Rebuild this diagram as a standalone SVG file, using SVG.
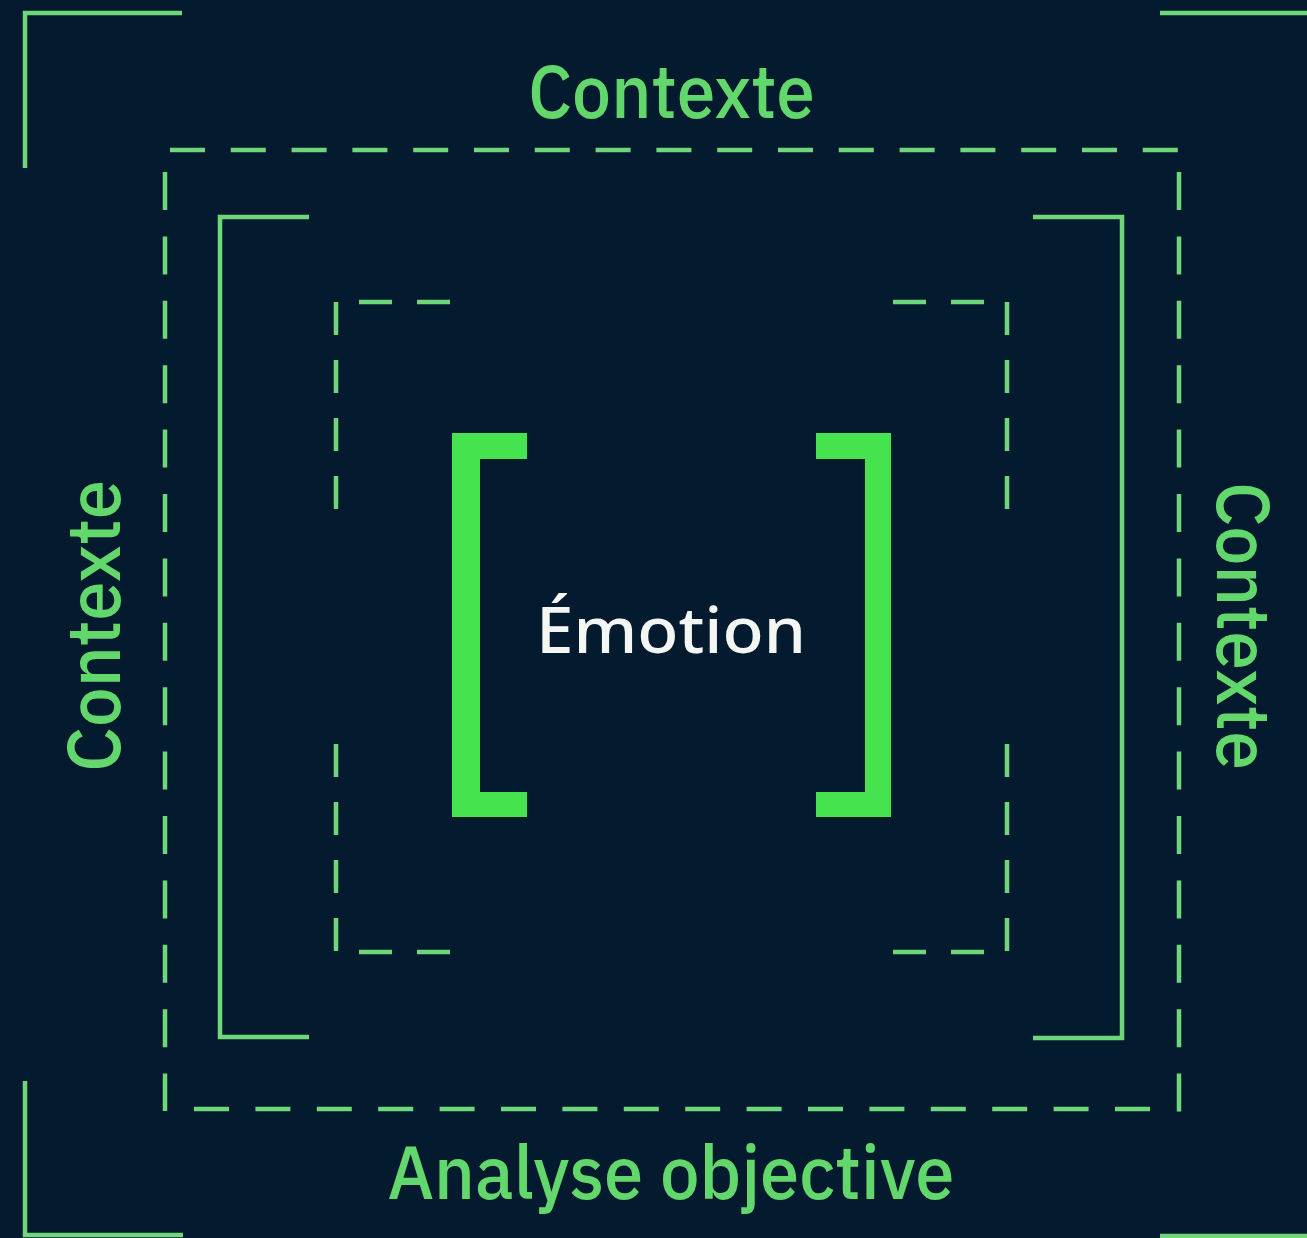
<svg xmlns="http://www.w3.org/2000/svg" width="1307" height="1238" viewBox="0 0 1307 1238">
<style>
.thin{fill:none;stroke:#6fd679;stroke-width:4.5}
.d1{stroke-dasharray:35 25.8}
.d2{stroke-dasharray:38 26.4}
.d3{stroke-dasharray:35 26.4}
.d4{stroke-dasharray:33 25}
.lbl{font-family:"IBM Plex Sans",Roboto,"Liberation Sans",sans-serif;font-weight:500;font-size:74px;fill:#62d86c;text-anchor:middle}
.big{fill:#45e34d}
.emo{font-family:"Noto Sans","Open Sans",sans-serif;font-weight:500;font-size:64px;fill:#f4f6f4;text-anchor:middle}
</style>
<rect width="1307" height="1238" fill="#041a2e"/>
<g id="corners">
<polyline class="thin" points="25,168 25,13 182,13"/>
<polyline class="thin" points="1160,13 1312,13"/>
<polyline class="thin" points="25,1081 25,1235 183,1235"/>
<polyline class="thin" points="1160,1236 1312,1236"/>
</g>
<g id="outer-dashed">
<line class="thin d1" x1="170" y1="150" x2="1178" y2="150"/>
<line class="thin d2" x1="165" y1="172" x2="165" y2="1111"/>
<line class="thin d2" x1="1179" y1="172" x2="1179" y2="1112"/>
<line class="thin d3" x1="194" y1="1109" x2="1150" y2="1109"/>
</g>
<g id="middle-brackets">
<polyline class="thin" points="309,217 220,217 220,1037 309,1037"/>
<polyline class="thin" points="1033,217 1122,217 1122,1038 1033,1038"/>
</g>
<g id="inner-dashed">
<line class="thin d4" x1="336" y1="302" x2="336" y2="510"/>
<line class="thin d4" x1="336" y1="744" x2="336" y2="951"/>
<line class="thin d4" x1="359" y1="302" x2="450" y2="302"/>
<line class="thin d4" x1="359" y1="952" x2="450" y2="952"/>
<line class="thin d4" x1="1007" y1="302" x2="1007" y2="510"/>
<line class="thin d4" x1="1007" y1="744" x2="1007" y2="951"/>
<line class="thin d4" x1="893" y1="302" x2="984" y2="302"/>
<line class="thin d4" x1="893" y1="952" x2="984" y2="952"/>
</g>
<g id="emotion">
<path class="big" d="M452,433 H527 V459 H480 V792 H527 V817 H452 Z"/>
<path class="big" d="M891,433 H816 V459 H865 V792 H816 V817 H891 Z"/>
<text class="emo" x="671" y="653" textLength="270" lengthAdjust="spacingAndGlyphs">Émotion</text>
</g>
<g id="labels">
<text class="lbl" x="671.5" y="118" textLength="287" lengthAdjust="spacingAndGlyphs">Contexte</text>
<text class="lbl" x="671" y="1199" textLength="567" lengthAdjust="spacingAndGlyphs">Analyse objective</text>
<text class="lbl" transform="translate(120,626) rotate(-90)" x="0" y="0" textLength="292" lengthAdjust="spacingAndGlyphs">Contexte</text>
<text class="lbl" transform="translate(1217,626) rotate(90)" x="0" y="0" textLength="288" lengthAdjust="spacingAndGlyphs">Contexte</text>
</g>
</svg>
